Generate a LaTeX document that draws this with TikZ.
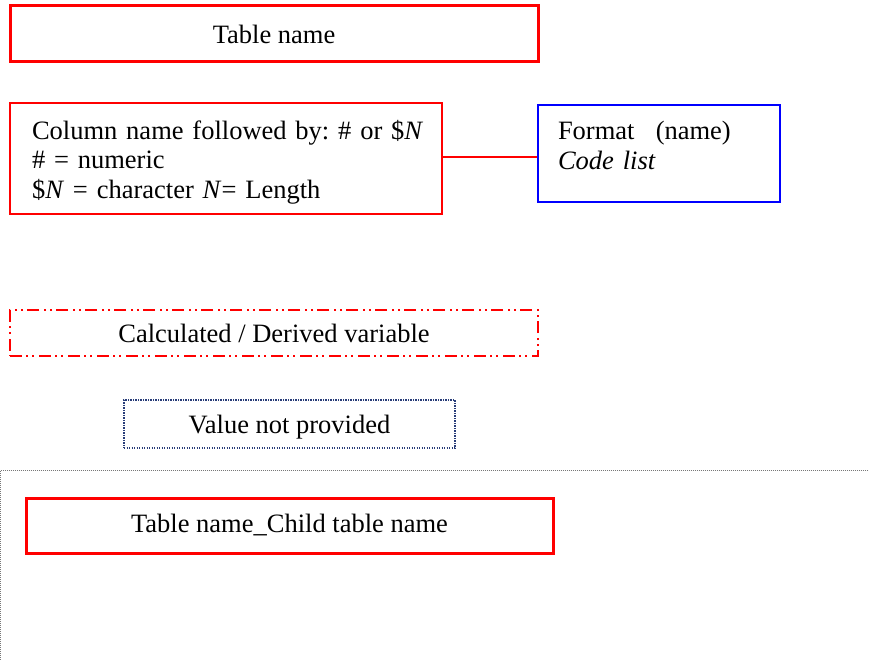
\documentclass[tikz,border=0pt]{standalone}
\usepackage{fontspec}
\setmainfont{Liberation Serif}
\definecolor{legred}{RGB}{255,0,0}
\definecolor{legblue}{RGB}{0,0,255}
\definecolor{legnavy}{RGB}{40,60,120}
\definecolor{leggray}{RGB}{120,120,120}
\usepackage{tikz}
\usetikzlibrary{positioning}

\begin{document}
\frenchspacing
\begin{tikzpicture}[x=1pt,y=-1pt,
    font=\fontsize{26.5}{29.5}\selectfont,
    tablebox/.style={draw=legred,line width=3pt,inner sep=0pt},
    colbox/.style={draw=legred,line width=1.5pt,inner xsep=18pt,inner ysep=0pt,align=left},
    fmtbox/.style={draw=legblue,line width=2pt,inner xsep=20pt,inner ysep=0pt,align=left},
    calcbox/.style={draw=legred,line width=1.8pt,inner sep=0pt,
      dash pattern=on 12pt off 4pt on 2pt off 4pt on 2pt off 5pt},
    nullbox/.style={draw=legnavy,line width=1.2pt,inner sep=0pt,
      dash pattern=on 1.2pt off 1.3pt}]
  \useasboundingbox (0,0) rectangle (869,660);
  % table name
  \node[tablebox,minimum width=528pt,minimum height=56pt] (tbl) at (274,34) {Table name};
  % column and its format
  \node[colbox,text width=396pt,minimum height=111pt] (col) at (226,158.5)
    {\rule{0pt}{26pt}\hspace{4pt}Column name followed by: \# or \$\textit{N}\\
     \hspace*{4pt}\# = numeric\\
     \hspace*{4pt}\$\textit{N} = character \textit{N}= Length};
  \node[fmtbox,text width=202pt,minimum height=97pt] (fmt) at (659,153.5)
    {Format\hspace{0.8em}(name)\\ \textit{Code list}\\[-13.5pt]\mbox{}};
  \draw[legred,line width=1.5pt] (col.east |- 0,157) -- (fmt.west |- 0,157);
  % derived
  \node[calcbox,minimum width=528pt,minimum height=46pt] (calc) at (274,333) {Calculated / Derived variable};
  % not provided
  \node[nullbox,minimum width=331pt,minimum height=48pt] (null) at (289.5,424) {\rule{0pt}{24pt}Value not provided};
  % child table frame
  \draw[leggray,line width=1pt,dash pattern=on 1pt off 1pt] (0.5,660) -- (0.5,470) -- (869,470);
  \node[tablebox,minimum width=527pt,minimum height=55pt] (child) at (289.5,525.5) {Table name\_Child table name};
\end{tikzpicture}
\end{document}
